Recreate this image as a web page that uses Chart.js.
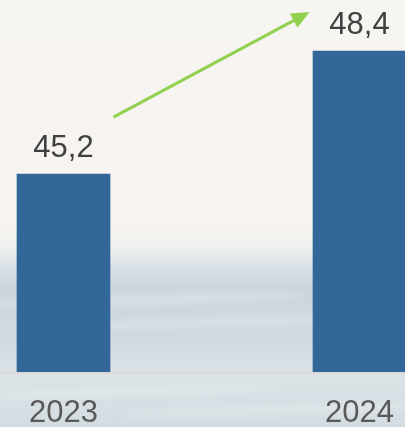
<!DOCTYPE html>
<html>
<head>
<meta charset="utf-8">
<script src="https://cdn.jsdelivr.net/npm/chart.js@4.4.1/dist/chart.umd.min.js"></script>
<style>
  html, body { margin: 0; padding: 0; background: #f6f4f1; }
</style>
</head>
<body>
<canvas id="chart-bar" width="405" height="427"></canvas>
<script>
// data
var years = ["2023", "2024"];
var values = [45.2, 48.4];
var valueLabels = ["45,2", "48,4"];

// background: light sky on top, sea water below
var bgPlugin = {
  id: "bg",
  beforeDraw: function (chart) {
    var ctx = chart.ctx;
    var w = chart.width, h = chart.height;
    ctx.save();
    var g = ctx.createLinearGradient(0, 0, 0, h);
    g.addColorStop(0, "#f7f5f2");
    g.addColorStop(0.53, "#f6f3f0");
    g.addColorStop(0.58, "#eff0ef");
    g.addColorStop(0.62, "#dbe3e7");
    g.addColorStop(0.67, "#cbd6dc");
    g.addColorStop(0.8, "#d0dadf");
    g.addColorStop(0.88, "#dbe3e7");
    g.addColorStop(1, "#d3dce1");
    ctx.fillStyle = g;
    ctx.fillRect(0, 0, w, h);
    // soft wave streaks
    ctx.filter = "blur(3px)";
    ctx.globalAlpha = 0.35;
    ctx.fillStyle = "#edf1f3";
    var streaks = [[300, 0.35], [322, 0.55], [392, 0.3], [410, 0.7]];
    for (var i = 0; i < streaks.length; i++) {
      ctx.beginPath();
      ctx.ellipse(w * streaks[i][1], streaks[i][0], w * 0.4, 5, -0.03, 0, Math.PI * 2);
      ctx.fill();
    }
    ctx.restore();

    // base line across the whole width
    var area = chart.chartArea;
    ctx.save();
    ctx.strokeStyle = "#dcd6d2";
    ctx.lineWidth = 1.5;
    ctx.beginPath();
    ctx.moveTo(0, area.bottom + 1);
    ctx.lineTo(w, area.bottom + 1);
    ctx.stroke();
    ctx.restore();
  }
};

// value labels above bars + green growth arrow
var labelPlugin = {
  id: "valueLabels",
  afterDatasetsDraw: function (chart) {
    var ctx = chart.ctx;
    var xs = chart.scales.x, ys = chart.scales.y;
    ctx.save();
    ctx.font = "31px 'Liberation Sans', Arial, sans-serif";
    ctx.fillStyle = "#404040";
    ctx.textAlign = "center";
    ctx.textBaseline = "alphabetic";
    for (var i = 0; i < values.length; i++) {
      ctx.fillText(valueLabels[i], xs.getPixelForValue(i), ys.getPixelForValue(values[i]) - 17);
    }

    var x1 = xs.getPixelForValue(0) + 50, y1 = ys.getPixelForValue(values[0]) - 57;
    var x2 = xs.getPixelForValue(1) - 50, y2 = ys.getPixelForValue(values[1]) - 39;
    var ang = Math.atan2(y2 - y1, x2 - x1);
    var head = 18, half = 8;
    ctx.strokeStyle = "#92d050";
    ctx.fillStyle = "#92d050";
    ctx.lineWidth = 3;
    ctx.beginPath();
    ctx.moveTo(x1, y1);
    ctx.lineTo(x2 - Math.cos(ang) * head * 0.8, y2 - Math.sin(ang) * head * 0.8);
    ctx.stroke();
    ctx.beginPath();
    ctx.moveTo(x2, y2);
    ctx.lineTo(x2 - Math.cos(ang) * head - Math.sin(ang) * half, y2 - Math.sin(ang) * head + Math.cos(ang) * half);
    ctx.lineTo(x2 - Math.cos(ang) * head + Math.sin(ang) * half, y2 - Math.sin(ang) * head - Math.cos(ang) * half);
    ctx.closePath();
    ctx.fill();
    ctx.restore();
  }
};

var ctx = document.getElementById("chart-bar").getContext("2d");
new Chart(ctx, {
  type: "bar",
  data: {
    labels: years,
    datasets: [{
      data: values,
      backgroundColor: "#336699",
      borderWidth: 0,
      barThickness: 93,
      clip: { left: 80, right: 80, top: 10, bottom: 0 }
    }]
  },
  options: {
    responsive: false,
    animation: false,
    layout: { padding: { left: 63.5, right: 45.5, top: 0, bottom: 0 } },
    plugins: { legend: { display: false }, tooltip: { enabled: false } },
    scales: {
      x: {
        offset: false,
        grid: { display: false, drawTicks: false },
        border: { display: false },
        afterFit: function (scale) {
          scale.height = 55;
          scale.paddingLeft = 0;
          scale.paddingRight = 0;
        },
        ticks: {
          color: "#595959",
          padding: 26,
          maxRotation: 0,
          font: { family: "'Liberation Sans', Arial, sans-serif", size: 31, lineHeight: 1.0 }
        }
      },
      y: {
        display: false,
        min: 40.05,
        max: 49.73
      }
    }
  },
  plugins: [bgPlugin, labelPlugin]
});
</script>
</body>
</html>
